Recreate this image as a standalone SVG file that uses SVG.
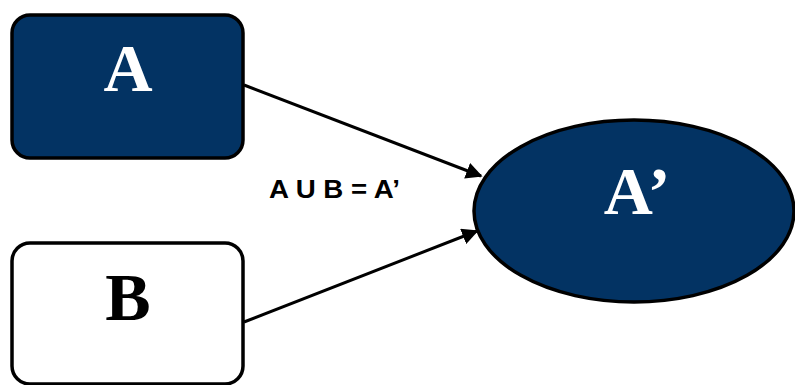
<svg xmlns="http://www.w3.org/2000/svg" width="795" height="385" viewBox="0 0 795 385">
<defs>
<style>
.node{stroke:#000;stroke-width:3.5}
.dark{fill:#033363}
.big{font-family:"Liberation Serif","Times New Roman",serif;font-weight:bold;font-size:68px;text-anchor:middle}
.conn{stroke:#000;stroke-width:3;fill:none}
</style>
<marker id="arr" viewBox="0 0 10 10" refX="9" refY="5" markerWidth="5.5" markerHeight="5.5" orient="auto" markerUnits="strokeWidth">
<path d="M0,0 L10,5 L0,10 z" fill="#000"/>
</marker>
</defs>
<rect width="795" height="385" fill="#fff"/>
<g id="connectors">
<line class="conn" x1="244" y1="85" x2="481" y2="176" marker-end="url(#arr)"/>
<line class="conn" x1="244" y1="322" x2="477" y2="231" marker-end="url(#arr)"/>
<text x="269" y="198" font-family="'Liberation Sans',Arial,sans-serif" font-weight="bold" font-size="25" textLength="131" lengthAdjust="spacingAndGlyphs" fill="#000">A U B = A’</text>
</g>
<g id="nodeA">
<rect class="node dark" x="12" y="15" width="231" height="143" rx="18"/>
<text class="big" x="128" y="91" fill="#fff">A</text>
</g>
<g id="nodeB">
<rect class="node" x="12" y="243" width="231" height="141" rx="18" fill="#fff"/>
<text class="big" x="128" y="320" fill="#000">B</text>
</g>
<g id="nodeAprime">
<ellipse class="node dark" cx="634" cy="211" rx="160" ry="91"/>
<text class="big" x="637" y="214" fill="#fff">A’</text>
</g>
</svg>
